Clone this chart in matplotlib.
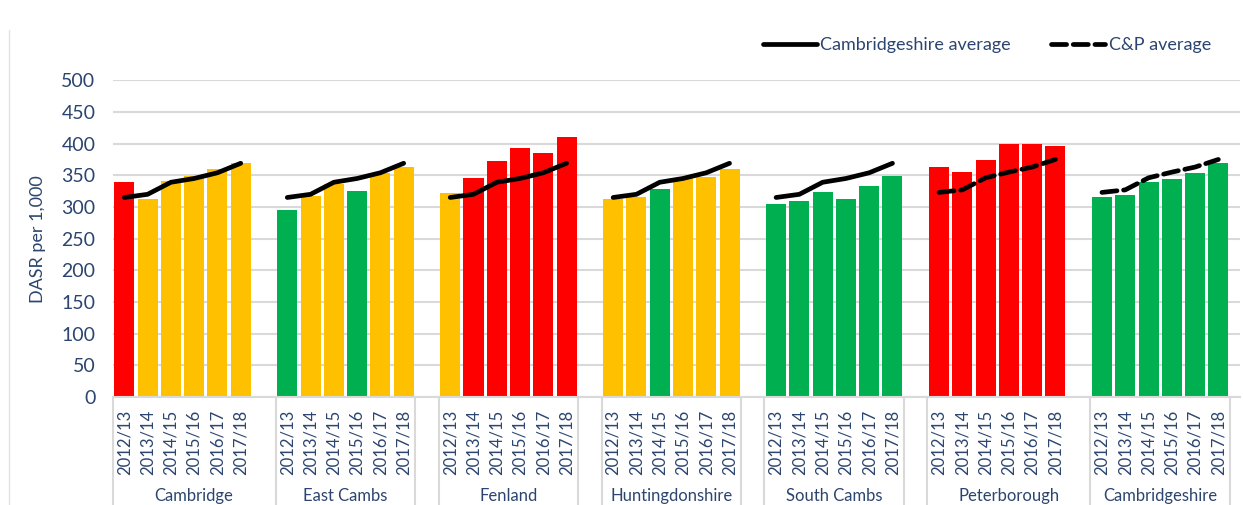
import matplotlib.pyplot as plt
import matplotlib.transforms as mtransforms
from matplotlib.lines import Line2D

# data
years = ["2012/13", "2013/14", "2014/15", "2015/16", "2016/17", "2017/18"]
areas = ["Cambridge", "East Cambs", "Fenland", "Huntingdonshire",
         "South Cambs", "Peterborough", "Cambridgeshire"]

cambridge = [339, 313, 341, 349, 360, 369]
east_cambs = [295, 317, 337, 325, 354, 363]
fenland = [322, 345, 372, 393, 386, 410]
huntingdonshire = [312, 316, 328, 345, 348, 360]
south_cambs = [304, 310, 323, 312, 333, 349]
peterborough = [363, 355, 374, 399, 400, 396]
cambridgeshire = [315, 319, 339, 344, 354, 369]

# RAG rating of each bar
rag_cambridge = ["R", "A", "A", "A", "A", "A"]
rag_east_cambs = ["G", "A", "A", "G", "A", "A"]
rag_fenland = ["A", "R", "R", "R", "R", "R"]
rag_huntingdonshire = ["A", "A", "G", "A", "A", "A"]
rag_south_cambs = ["G", "G", "G", "G", "G", "G"]
rag_peterborough = ["R", "R", "R", "R", "R", "R"]
rag_cambridgeshire = ["G", "G", "G", "G", "G", "G"]

cambs_avg = [315, 320, 339, 345, 354, 369]
cp_avg = [323, 327, 346, 355, 363, 375]

values = [cambridge, east_cambs, fenland, huntingdonshire,
          south_cambs, peterborough, cambridgeshire]
rags = [rag_cambridge, rag_east_cambs, rag_fenland, rag_huntingdonshire,
        rag_south_cambs, rag_peterborough, rag_cambridgeshire]
avg_for_area = [cambs_avg] * 5 + [cp_avg] * 2
avg_style = ["solid"] * 5 + ["dashed"] * 2

# slot where each area's bars start (blank slots between areas)
group_start = [0, 7, 14, 21, 28, 35, 42]
# category spans along the bottom axis
span_edges = [-0.5, 6.5, 12.5, 13.5, 19.5, 20.5, 26.5, 27.5, 33.5, 34.5, 41.5, 47.5]
label_span = [(-0.5, 6.5), (6.5, 12.5), (13.5, 19.5), (20.5, 26.5),
              (27.5, 33.5), (34.5, 41.5), (41.5, 47.5)]

rag_colors = {"R": "#FF0000", "A": "#FFC000", "G": "#00B050"}
txt = "#2B4570"
grid = "#D9D9D9"

plt.rcParams["font.family"] = ["Lato", "DejaVu Sans"]

fig = plt.figure(figsize=(12.43, 5.05), dpi=100)
ax = fig.add_axes([112.7 / 1243, 108 / 505, (1240 - 112.7) / 1243, 316.7 / 505])

xticks = []
xlabels = []
for i in range(len(areas)):
    xs = [group_start[i] + k for k in range(len(years))]
    cols = [rag_colors[r] for r in rags[i]]
    ax.bar(xs, values[i], width=0.86, color=cols, zorder=2)
    dash = (0, (3.2, 1.4)) if avg_style[i] == "dashed" else "-"
    ax.plot(xs, avg_for_area[i], color="black", lw=3.4, ls=dash,
            solid_capstyle="round", dash_capstyle="round", zorder=3)
    xticks += xs
    xlabels += years

ax.set_xlim(-0.5, 47.93)
ax.set_ylim(0, 500)
ax.set_yticks(range(0, 501, 50))
ax.yaxis.grid(True, color=grid, lw=1.5, zorder=0)
ax.set_axisbelow(True)
for s in ["left", "right", "top"]:
    ax.spines[s].set_visible(False)
ax.spines["bottom"].set_color(grid)
ax.spines["bottom"].set_linewidth(1.5)
ax.tick_params(axis="y", length=0, pad=12.5, labelsize=14, labelcolor=txt)
ax.set_xticks(xticks)
ax.set_xticklabels(xlabels, rotation=90, fontsize=12, color=txt, va="top")
ax.tick_params(axis="x", length=0, pad=9.5)
ax.set_ylabel("DASR per 1,000", fontsize=13, color=txt, labelpad=11)

trans = mtransforms.blended_transform_factory(ax.transData, ax.transAxes)
for e in span_edges:
    ax.plot([e, e], [0, -0.345], transform=trans, color=grid, lw=1.5,
            clip_on=False, zorder=1)
for name, (a, b) in zip(areas, label_span):
    ax.text((a + b) / 2, -0.313, name, transform=trans, ha="center",
            va="center", fontsize=12, color=txt)

handles = [Line2D([], [], color="black", lw=3.4, solid_capstyle="round"),
           Line2D([], [], color="black", lw=3.4, ls=(0, (3.2, 1.4)),
                  dash_capstyle="round")]
fig.legend(handles, ["Cambridgeshire average", "C&P average"], ncol=2,
           loc="center right", bbox_to_anchor=(1218 / 1243, 1 - 45 / 505),
           frameon=False, fontsize=13, labelcolor=txt, handlelength=3.0,
           handletextpad=0.2, columnspacing=2.2, borderaxespad=0)

# faint chart border on the left
fig.add_artist(Line2D([9 / 1243, 9 / 1243], [0, 1 - 30 / 505],
                      color="#E3E3E3", lw=1))

fig.savefig("out.png", dpi=100)
